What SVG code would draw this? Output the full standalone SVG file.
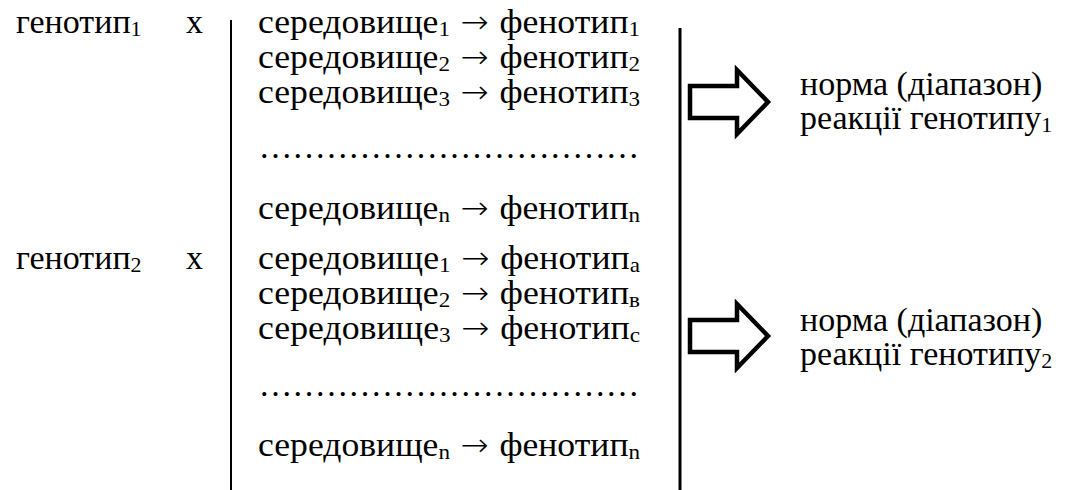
<svg xmlns="http://www.w3.org/2000/svg" width="1072" height="490" viewBox="0 0 1072 490">
  <style>
    text { font-family: "Liberation Serif", "Times New Roman", serif; font-size: 34px; fill: #000; }
    .sub { font-size: 22px; }
    .arr { font-family: "DejaVu Sans", sans-serif; font-size: 32px; font-weight: 200; }
    .rule { stroke: #000; fill: none; }
    .big-arrow { fill: #fff; stroke: #000; stroke-width: 4.5; stroke-linejoin: miter; }
  </style>

  <!-- vertical separators and block arrows -->
  <g id="connectors">
    <line class="rule" x1="231" y1="20" x2="231" y2="490" stroke-width="2"/>
    <line class="rule" x1="680" y1="28" x2="680" y2="490" stroke-width="3"/>
    <polygon class="big-arrow" points="690,86 737,86 737,70 768,102 737,134 737,118 690,118"/>
    <polygon class="big-arrow" points="690,320 737,320 737,304 768,336 737,368 737,352 690,352"/>
  </g>

  <!-- genotype 1 -->
  <g id="genotype1">
    <text x="16" y="33">генотип<tspan class="sub" dy="3">1</tspan></text>
    <text x="186" y="33">x</text>
  </g>
  <g id="environments1">
    <text x="258" y="33" textLength="382" lengthAdjust="spacingAndGlyphs">середовище<tspan class="sub" dy="3">1</tspan><tspan class="arr" dy="-3"> → </tspan>фенотип<tspan class="sub" dy="3">1</tspan></text>
    <text x="258" y="68" textLength="382" lengthAdjust="spacingAndGlyphs">середовище<tspan class="sub" dy="3">2</tspan><tspan class="arr" dy="-3"> → </tspan>фенотип<tspan class="sub" dy="3">2</tspan></text>
    <text x="258" y="103" textLength="382" lengthAdjust="spacingAndGlyphs">середовище<tspan class="sub" dy="3">3</tspan><tspan class="arr" dy="-3"> → </tspan>фенотип<tspan class="sub" dy="3">3</tspan></text>
    <text x="260" y="158" textLength="378" lengthAdjust="spacing">..................................</text>
    <text x="258" y="219" textLength="382" lengthAdjust="spacingAndGlyphs">середовище<tspan class="sub" dy="3">n</tspan><tspan class="arr" dy="-3"> → </tspan>фенотип<tspan class="sub" dy="3">n</tspan></text>
  </g>
  <g id="norm1">
    <text x="800" y="95">норма (діапазон)</text>
    <text x="800" y="129">реакції генотипу<tspan class="sub" dy="3">1</tspan></text>
  </g>

  <!-- genotype 2 -->
  <g id="genotype2">
    <text x="16" y="269">генотип<tspan class="sub" dy="3">2</tspan></text>
    <text x="186" y="269">x</text>
  </g>
  <g id="environments2">
    <text x="258" y="269" textLength="382" lengthAdjust="spacingAndGlyphs">середовище<tspan class="sub" dy="3">1</tspan><tspan class="arr" dy="-3"> → </tspan>фенотип<tspan class="sub" dy="3">a</tspan></text>
    <text x="258" y="304" textLength="382" lengthAdjust="spacingAndGlyphs">середовище<tspan class="sub" dy="3">2</tspan><tspan class="arr" dy="-3"> → </tspan>фенотип<tspan class="sub" dy="3">в</tspan></text>
    <text x="258" y="339" textLength="382" lengthAdjust="spacingAndGlyphs">середовище<tspan class="sub" dy="3">3</tspan><tspan class="arr" dy="-3"> → </tspan>фенотип<tspan class="sub" dy="3">c</tspan></text>
    <text x="260" y="396" textLength="378" lengthAdjust="spacing">..................................</text>
    <text x="258" y="456" textLength="382" lengthAdjust="spacingAndGlyphs">середовище<tspan class="sub" dy="3">n</tspan><tspan class="arr" dy="-3"> → </tspan>фенотип<tspan class="sub" dy="3">n</tspan></text>
  </g>
  <g id="norm2">
    <text x="800" y="331">норма (діапазон)</text>
    <text x="800" y="365">реакції генотипу<tspan class="sub" dy="3">2</tspan></text>
  </g>
</svg>
